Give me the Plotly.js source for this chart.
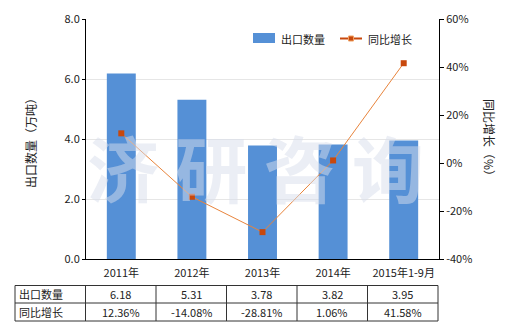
<!DOCTYPE html>
<html><head><meta charset="utf-8">
<script src="https://cdn.plot.ly/plotly-3.0.1.min.js"></script>
<style>html,body{margin:0;padding:0;background:#fff}#c{width:520px;height:330px}</style>
</head><body><div id="c"></div>
<script>
var categories = ['2011年','2012年','2013年','2014年','2015年1-9月'];
var exportQty = [6.18, 5.31, 3.78, 3.82, 3.95];
var yoyGrowth = [12.36, -14.08, -28.81, 1.06, 41.58];
var seriesNames = ['出口数量','同比增长'];
var leftTicks = [0, 2, 4, 6, 8];
var rightTicks = [-40, -20, 0, 20, 40, 60];
var leftTitle = '出口数量（万吨）';
var rightTitle = '同比增长（%）';

var F = '"Noto Sans CJK SC", "Noto Sans", sans-serif';
var barColor = '#5590d6', lineColor = '#e8843c', markColor = '#c8480c';
var bar = {type:'bar', x:categories, y:exportQty, name:seriesNames[0],
  marker:{color:barColor}, width:0.41, hoverinfo:'none', showlegend:false};
var line = {type:'scatter', mode:'lines+markers', x:categories, y:yoyGrowth, yaxis:'y2',
  name:seriesNames[1], line:{color:lineColor, width:1},
  marker:{symbol:'square', size:6, color:markColor}, hoverinfo:'none', showlegend:false};

// px -> paper helpers
function px(x){return (x-86)/353;}
function py(y){return 1-(y-19)/240;}

var shapes = [], ann = [];
var rowY = [py(285.5), py(303), py(321)];
rowY.forEach(function(y){
  shapes.push({type:'line', xref:'paper', yref:'paper', x0:px(15), x1:px(438), y0:y, y1:y, line:{color:'#333', width:1}});
});
shapes.push({type:'line', xref:'paper', yref:'paper', x0:px(15), x1:px(15), y0:rowY[0], y1:rowY[2], line:{color:'#333', width:1}});
for (var k=0;k<=categories.length;k++){
  var xp = px(85.5 + k*(438-85.5)/categories.length);
  shapes.push({type:'line', xref:'paper', yref:'paper', x0:xp, x1:xp, y0:rowY[0], y1:rowY[2], line:{color:'#333', width:1}});
}
[seriesNames[0], seriesNames[1]].forEach(function(t,i){
  ann.push({xref:'paper', yref:'paper', x:px(17), y:(rowY[i]+rowY[i+1])/2, text:t, showarrow:false,
    xanchor:'left', yanchor:'middle', font:{family:F, size:11, color:'#222'}});
});
categories.forEach(function(c,i){
  var xp = px(85.5 + (i+0.5)*(438-85.5)/categories.length);
  ann.push({xref:'paper', yref:'paper', x:xp, y:(rowY[0]+rowY[1])/2, text:exportQty[i].toFixed(2), showarrow:false,
    xanchor:'center', yanchor:'middle', font:{family:F, size:11, color:'#222'}});
  ann.push({xref:'paper', yref:'paper', x:xp, y:(rowY[1]+rowY[2])/2, text:yoyGrowth[i].toFixed(2)+'%', showarrow:false,
    xanchor:'center', yanchor:'middle', font:{family:F, size:11, color:'#222'}});
});
// legend (manual)
shapes.push({type:'rect', xref:'paper', yref:'paper', x0:px(253), x1:px(275), y0:py(33), y1:py(43), fillcolor:barColor, line:{width:0}});
shapes.push({type:'line', xref:'paper', yref:'paper', x0:px(340), x1:px(362), y0:py(38.5), y1:py(38.5), line:{color:'#c8480c', width:2}});
shapes.push({type:'rect', xref:'paper', yref:'paper', x0:px(348.5), x1:px(353.5), y0:py(36), y1:py(41), fillcolor:markColor, line:{color:'#f0a060', width:1}});
ann.push({xref:'paper', yref:'paper', x:px(279), y:py(38.5), text:seriesNames[0], showarrow:false, xanchor:'left', yanchor:'middle', font:{family:F, size:11, color:'#222'}});
ann.push({xref:'paper', yref:'paper', x:px(366), y:py(38.5), text:seriesNames[1], showarrow:false, xanchor:'left', yanchor:'middle', font:{family:F, size:11, color:'#222'}});
// axis titles
ann.push({xref:'paper', yref:'paper', x:px(30), y:py(140), text:leftTitle, textangle:-90, showarrow:false, xanchor:'center', yanchor:'middle', font:{family:F, size:12, color:'#222'}});
ann.push({xref:'paper', yref:'paper', x:px(490), y:py(140), text:rightTitle, textangle:90, showarrow:false, xanchor:'center', yanchor:'middle', font:{family:F, size:12, color:'#222'}});
// watermark
ann.push({xref:'paper', yref:'paper', x:px(255), y:py(165), text:'<b>济 研 咨 询</b>', showarrow:false,
  font:{family:F, size:72, color:'rgba(215,222,235,0.5)'}, xanchor:'center', yanchor:'middle'});

var layout = {
  width:520, height:330, margin:{l:86, r:81, t:19, b:71},
  paper_bgcolor:'#fff', plot_bgcolor:'#fff',
  font:{family:F, size:11, color:'#222'},
  showlegend:false,
  bargap:0.59,
  xaxis:{type:'category', showline:true, linecolor:'#000', linewidth:1, ticks:'', showgrid:false,
    tickfont:{family:F, size:11}, ticklabelstandoff:4, fixedrange:true},
  yaxis:{range:[0,8], tickvals:leftTicks, ticktext:leftTicks.map(function(v){return v.toFixed(1);}),
    showline:true, linecolor:'#000', linewidth:1, ticks:'outside', ticklen:3, tickcolor:'#000',
    showgrid:true, gridcolor:'#e6e6e6', zeroline:false},
  yaxis2:{range:[-40,60], overlaying:'y', side:'right', tickvals:rightTicks,
    ticktext:rightTicks.map(function(v){return v+'%';}),
    showline:true, linecolor:'#000', linewidth:1, ticks:'outside', ticklen:4, tickcolor:'#000',
    showgrid:false, zeroline:false},
  shapes:shapes, annotations:ann
};
Plotly.newPlot('c', [bar, line], layout, {staticPlot:true, displayModeBar:false});
</script></body></html>
